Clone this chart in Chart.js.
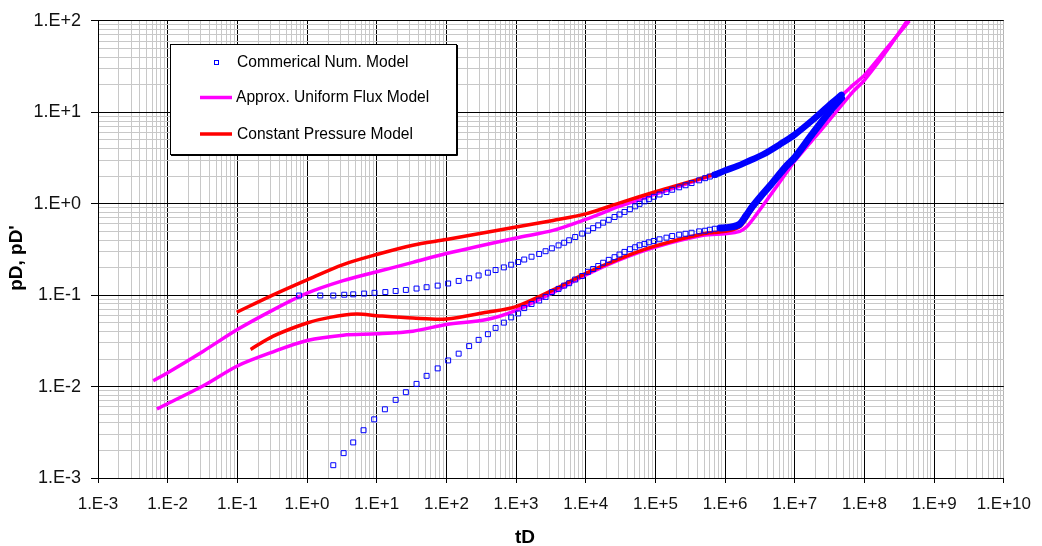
<!DOCTYPE html>
<html>
<head>
<meta charset="utf-8">
<style>
  html, body { margin: 0; padding: 0; background: #fff; }
</style>
</head>
<body>
<canvas id="myChart" width="1042" height="546"></canvas>
<script src="https://cdn.jsdelivr.net/npm/chart.js@4/dist/chart.umd.min.js"></script>
<script>
// series names as in the legend
var seriesNames = ['Commerical Num. Model', 'Approx. Uniform Flux Model', 'Constant Pressure Model'];
var xTitle = 'tD';
var yTitle = "pD, pD'";
var xTickLabels = ['1.E-3', '1.E-2', '1.E-1', '1.E+0', '1.E+1', '1.E+2', '1.E+3', '1.E+4', '1.E+5', '1.E+6', '1.E+7', '1.E+8', '1.E+9', '1.E+10'];
var yTickLabels = ['1.E-3', '1.E-2', '1.E-1', '1.E+0', '1.E+1', '1.E+2'];

// commercial numerical model, pD (squares)
var numPdT = [0.77, 1.55, 2.38, 3.42, 4.6, 6.6, 9.3, 13.3, 18.7, 26.2, 37.3, 52, 75, 106, 150, 212, 290, 394, 508, 668, 851, 1072, 1309, 1667, 2144, 2650, 3265, 4070, 4900, 5780, 7050, 8890, 10800, 12770, 15100, 17780, 21400, 25900, 30500, 36000, 43000, 51200, 59100, 69800, 80400, 94900, 114500, 144000, 174000, 219000, 270000, 330000, 424000, 516000, 604000, 711000];
var numPdV = [0.099, 0.099, 0.099, 0.101, 0.102, 0.104, 0.106, 0.108, 0.111, 0.114, 0.118, 0.122, 0.127, 0.134, 0.143, 0.153, 0.164, 0.176, 0.188, 0.201, 0.215, 0.230, 0.245, 0.263, 0.282, 0.302, 0.325, 0.350, 0.374, 0.398, 0.432, 0.471, 0.507, 0.540, 0.580, 0.620, 0.666, 0.715, 0.762, 0.812, 0.870, 0.935, 0.995, 1.06, 1.12, 1.19, 1.26, 1.34, 1.42, 1.51, 1.59, 1.68, 1.80, 1.90, 1.98, 2.07];
// commercial numerical model, pD' (squares)
var numDerT = [2.38, 3.35, 4.6, 6.47, 9.2, 13.1, 18.7, 26.2, 37.3, 52, 75, 106, 150, 212, 290, 394, 508, 668, 851, 1072, 1309, 1667, 2144, 2650, 3265, 4070, 4900, 5780, 7050, 8890, 10800, 12770, 15100, 17780, 21400, 25900, 30500, 36000, 43000, 51200, 59100, 69800, 80400, 94900, 114500, 144000, 174000, 219000, 270000, 330000, 424000, 516000, 604000, 711000, 855000];
var numDerV = [0.00138, 0.00187, 0.00245, 0.00333, 0.00438, 0.00564, 0.00715, 0.00868, 0.0107, 0.0131, 0.0158, 0.0193, 0.0229, 0.0277, 0.0324, 0.0374, 0.0438, 0.050, 0.0571, 0.063, 0.0721, 0.080, 0.0873, 0.0957, 0.108, 0.117, 0.127, 0.135, 0.148, 0.162, 0.180, 0.193, 0.208, 0.226, 0.243, 0.260, 0.278, 0.297, 0.318, 0.334, 0.351, 0.363, 0.378, 0.391, 0.408, 0.425, 0.443, 0.458, 0.469, 0.481, 0.498, 0.506, 0.519, 0.532, 0.541];
// late time, where the squares merge into a solid band
var numPdBandT = [7.1e5, 1e6, 1.5e6, 2.02e6, 3.5e6, 6.1e6, 1e7, 1.83e7, 3.18e7, 4.68e7];
var numPdBandV = [2.07, 2.31, 2.58, 2.85, 3.45, 4.45, 5.7, 8.3, 12.1, 15.5];
var numDerBandT = [8.5e5, 1e6, 1.3e6, 1.63e6, 2.0e6, 2.52e6, 3.3e6, 4.4e6, 7.6e6, 1e7, 1.83e7, 3.18e7, 4.68e7];
var numDerBandV = [0.541, 0.545, 0.56, 0.60, 0.74, 0.95, 1.22, 1.57, 2.59, 3.2, 5.94, 10.2, 14.3];

// approx. uniform flux model
var fluxPdT = [0.0062, 0.01, 0.0325, 0.1, 0.327, 1, 3.3, 10, 33, 100, 1000, 3400, 1e4, 3.09e4, 1e5, 4.84e5, 1e6, 2.02e6, 3.5e6, 6.1e6, 1e7, 1.83e7, 3.18e7, 4.68e7, 6.9e7, 1e8, 2e8, 4.4e8];
var fluxPdV = [0.0116, 0.0142, 0.0244, 0.042, 0.069, 0.105, 0.144, 0.18, 0.228, 0.285, 0.422, 0.51, 0.673, 0.938, 1.27, 1.89, 2.28, 2.83, 3.4, 4.4, 5.6, 8.2, 12.0, 15.2, 19.9, 25.5, 48, 100];
var fluxDerT = [0.007, 0.0325, 0.1, 0.327, 1, 3.3, 10, 33, 100, 378, 1000, 3400, 1e4, 3.09e4, 1e5, 4.84e5, 1e6, 1.63e6, 2.02e6, 2.52e6, 4.4e6, 7.6e6, 1e7, 1.83e7, 3.18e7, 6.9e7, 1e8, 2e8, 4.1e8];
var fluxDerV = [0.0057, 0.0102, 0.0168, 0.024, 0.0319, 0.0365, 0.0377, 0.0403, 0.0477, 0.054, 0.068, 0.107, 0.166, 0.245, 0.336, 0.451, 0.47, 0.498, 0.555, 0.68, 1.22, 2.19, 2.93, 5.04, 8.3, 16.9, 22.5, 45, 100];

// constant pressure model
var cpPdT = [0.098, 0.327, 1, 3.3, 10, 33, 100, 1000, 3400, 1e4, 3.09e4, 1e5, 4.84e5, 1e6, 2.02e6, 3.5e6, 6.1e6, 1e7, 1.83e7, 3.18e7, 4.5e7];
var cpPdV = [0.065, 0.1007, 0.147, 0.216, 0.278, 0.351, 0.405, 0.555, 0.656, 0.773, 1.02, 1.35, 1.93, 2.32, 2.85, 3.45, 4.45, 5.7, 8.3, 12.1, 15];
var cpDerT = [0.155, 0.327, 1, 2.13, 5.15, 10, 33, 100, 378, 1000, 3400, 1e4, 3.09e4, 1e5, 4.84e5, 1e6, 1.63e6, 2.52e6, 4.4e6, 7.6e6, 1e7, 1.83e7, 3.18e7, 4.5e7];
var cpDerV = [0.0255, 0.0356, 0.0496, 0.0571, 0.062, 0.0596, 0.0562, 0.0548, 0.065, 0.075, 0.114, 0.173, 0.251, 0.345, 0.469, 0.498, 0.56, 0.9, 1.52, 2.5, 3.15, 5.8, 10.0, 13.6];

var BLUE = '#0000ff', MAGENTA = '#ff00ff', RED = '#ff0000';
var FONT = '"Liberation Sans", Arial, sans-serif';

function pts(t, v) {
    return t.map(function(x, i) { return {x: x, y: v[i]}; });
}
function tickValue(label) {
    return Number(label.replace('.E', 'e'));
}
function isDecade(v) {
    var l = Math.log10(v);
    return Math.abs(l - Math.round(l)) < 1e-9;
}
// 1..9 in every decade, labels only on the powers of ten
function logTicks(labels) {
    var decades = labels.map(tickValue);
    var ticks = [];
    decades.forEach(function(d, i) {
        ticks.push({value: d});
        if (i < decades.length - 1) {
            for (var k = 2; k <= 9; k++) ticks.push({value: d * k});
        }
    });
    return ticks;
}
function labelFor(labels) {
    var lo = Math.log10(tickValue(labels[0]));
    return function(v) {
        return isDecade(v) ? labels[Math.round(Math.log10(v) - lo)] : '';
    };
}

// legend box and axis titles, drawn like the spreadsheet did
var decorations = {
    id: 'decorations',
    afterDraw: function(chart) {
        var ctx = chart.ctx;
        ctx.save();
        ctx.fillStyle = '#fff';
        ctx.fillRect(170, 44, 287, 110);
        ctx.strokeStyle = '#000';
        ctx.lineWidth = 1;
        ctx.strokeRect(170.5, 44.5, 286, 110);
        ctx.beginPath();
        ctx.moveTo(457.5, 45); ctx.lineTo(457.5, 155.5); ctx.lineTo(171, 155.5);
        ctx.stroke();

        ctx.strokeStyle = BLUE;
        ctx.strokeRect(214.5, 60.5, 4, 4);
        ctx.lineWidth = 3.5;
        ctx.strokeStyle = MAGENTA;
        ctx.beginPath(); ctx.moveTo(200, 97.5); ctx.lineTo(232, 97.5); ctx.stroke();
        ctx.strokeStyle = RED;
        ctx.beginPath(); ctx.moveTo(200, 134); ctx.lineTo(232, 134); ctx.stroke();

        ctx.fillStyle = '#000';
        ctx.font = '15.6px ' + FONT;
        ctx.textBaseline = 'middle';
        ctx.textAlign = 'left';
        ctx.fillText(seriesNames[0], 237, 62.5);
        ctx.fillText(seriesNames[1], 236, 98);
        ctx.fillText(seriesNames[2], 237, 134.5);

        ctx.font = 'bold 19px ' + FONT;
        ctx.textAlign = 'center';
        ctx.fillText(xTitle, 525, 538);
        ctx.translate(17, 258);
        ctx.rotate(-Math.PI / 2);
        ctx.fillText(yTitle, 0, 0);
        ctx.restore();
    }
};

var ctx = document.getElementById('myChart').getContext('2d');
new Chart(ctx, {
    type: 'scatter',
    data: {
        datasets: [
            {label: seriesNames[0], data: pts(numPdT, numPdV), pointStyle: 'rect', pointRadius: 3.5, borderWidth: 1, borderColor: BLUE, backgroundColor: 'rgba(0,0,0,0)'},
            {label: seriesNames[0], data: pts(numDerT, numDerV), pointStyle: 'rect', pointRadius: 3.5, borderWidth: 1, borderColor: BLUE, backgroundColor: 'rgba(0,0,0,0)'},
            {label: seriesNames[0], data: pts(numPdBandT, numPdBandV), showLine: true, pointRadius: 0, borderWidth: 6.5, borderColor: BLUE, borderCapStyle: 'round', tension: 0.3},
            {label: seriesNames[0], data: pts(numDerBandT, numDerBandV), showLine: true, pointRadius: 0, borderWidth: 7, borderColor: BLUE, borderCapStyle: 'round', tension: 0.3},
            {label: seriesNames[2], data: pts(cpPdT, cpPdV), showLine: true, pointRadius: 0, borderWidth: 3.5, borderColor: RED, tension: 0.3},
            {label: seriesNames[2], data: pts(cpDerT, cpDerV), showLine: true, pointRadius: 0, borderWidth: 3.5, borderColor: RED, tension: 0.3},
            {label: seriesNames[1], data: pts(fluxPdT, fluxPdV), showLine: true, pointRadius: 0, borderWidth: 3.5, borderColor: MAGENTA, tension: 0.3},
            {label: seriesNames[1], data: pts(fluxDerT, fluxDerV), showLine: true, pointRadius: 0, borderWidth: 3.5, borderColor: MAGENTA, tension: 0.3}
        ]
    },
    options: {
        responsive: false,
        animation: false,
        devicePixelRatio: 1,
        layout: {padding: {top: 17, right: 38, bottom: 0, left: 0}},
        plugins: {legend: {display: false}, tooltip: {enabled: false}},
        scales: {
            x: {
                type: 'logarithmic',
                position: 'bottom',
                min: tickValue(xTickLabels[0]),
                max: tickValue(xTickLabels[xTickLabels.length - 1]),
                afterBuildTicks: function(scale) { scale.ticks = logTicks(xTickLabels); },
                afterFit: function(scale) { scale.height = 68; },
                border: {color: '#000', width: 1},
                grid: {
                    color: function(c) {
                        var v = c.tick ? c.tick.value : 0;
                        if (v >= 1e10) return '#b4b4b4';
                        return isDecade(v) ? '#000' : '#c8c8c8';
                    },
                    tickColor: function(c) { return c.tick && isDecade(c.tick.value) ? '#000' : 'rgba(0,0,0,0)'; },
                    tickLength: 5,
                    lineWidth: 1
                },
                ticks: {
                    autoSkip: false, maxRotation: 0, padding: 11,
                    color: '#111',
                    font: {family: FONT, size: 17},
                    callback: labelFor(xTickLabels)
                }
            },
            y: {
                type: 'logarithmic',
                position: 'left',
                min: tickValue(yTickLabels[0]),
                max: tickValue(yTickLabels[yTickLabels.length - 1]),
                afterBuildTicks: function(scale) { scale.ticks = logTicks(yTickLabels); },
                afterFit: function(scale) { scale.width = 98; },
                border: {color: '#000', width: 1},
                grid: {
                    color: function(c) { return c.tick && isDecade(c.tick.value) ? '#000' : '#c8c8c8'; },
                    tickColor: function(c) { return c.tick && isDecade(c.tick.value) ? '#000' : 'rgba(0,0,0,0)'; },
                    tickLength: 7,
                    lineWidth: 1
                },
                ticks: {
                    autoSkip: false, padding: 10,
                    color: '#111',
                    font: {family: FONT, size: 18},
                    callback: labelFor(yTickLabels)
                }
            }
        }
    },
    plugins: [decorations]
});
</script>
</body>
</html>
